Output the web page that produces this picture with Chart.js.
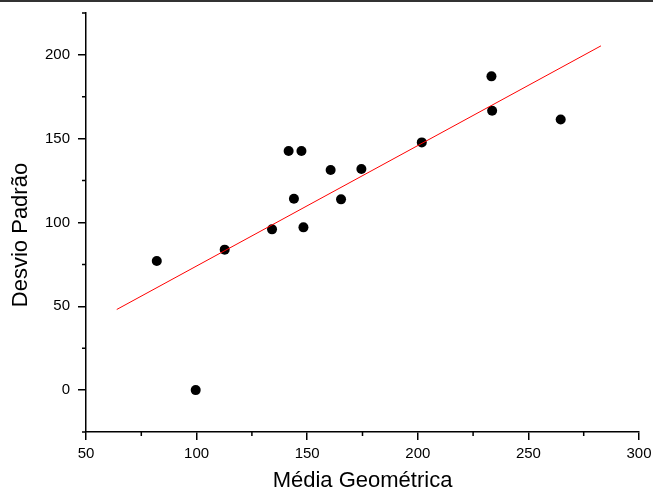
<!DOCTYPE html>
<html>
<head>
<meta charset="utf-8">
<script src="https://cdn.jsdelivr.net/npm/chart.js@4.4.1/dist/chart.umd.min.js"></script>
<style>
  html, body { margin: 0; padding: 0; background: #fff; }
  canvas { display: block; }
</style>
</head>
<body>
<canvas id="chart" width="653" height="494"></canvas>
<script>
// values
const mediaGeometrica = [82.0, 99.6, 112.7, 134.1, 141.6, 147.4, 144.0, 148.3, 160.6, 165.3, 174.5, 201.8, 233.3, 233.6, 264.6];
const desvioPadrao = [77.0, 0.0, 83.8, 95.9, 142.7, 142.7, 114.2, 97.1, 131.3, 113.8, 131.9, 147.8, 187.2, 166.7, 161.5];
// ends of the fitted line
const fitX = [63.9, 282.8];
const fitY = [48.1, 205.4];

const xTicks = [50, 100, 150, 200, 250, 300];
const yTicks = [0, 50, 100, 150, 200];
const xMinor = [75, 125, 175, 225, 275];
const yMinor = [-25, 25, 75, 125, 175, 225];

const points = mediaGeometrica.map((x, i) => ({ x: x, y: desvioPadrao[i] }));
const fitLine = fitX.map((x, i) => ({ x: x, y: fitY[i] }));

const font = "'Liberation Sans', Arial, sans-serif";

const extras = {
  id: "extras",
  afterDraw(chart) {
    const ctx = chart.ctx;
    const xs = chart.scales.x;
    const ys = chart.scales.y;
    const area = chart.chartArea;
    ctx.save();
    ctx.strokeStyle = "#000";
    ctx.lineWidth = 1.5;
    ctx.beginPath();
    xMinor.forEach((v) => {
      const px = xs.getPixelForValue(v);
      ctx.moveTo(px, area.bottom);
      ctx.lineTo(px, area.bottom + 4);
    });
    yMinor.forEach((v) => {
      const py = ys.getPixelForValue(v);
      ctx.moveTo(area.left, py);
      ctx.lineTo(area.left - 4, py);
    });
    ctx.stroke();
    // thin rule along the very top of the picture
    ctx.fillStyle = "#333";
    ctx.fillRect(0, 0, chart.width, 2);
    // y axis title, sits a little below the middle like the original
    ctx.translate(21, 235);
    ctx.rotate(-Math.PI / 2);
    ctx.fillStyle = "#000";
    ctx.font = "22px " + font;
    ctx.textAlign = "center";
    ctx.textBaseline = "middle";
    ctx.fillText("Desvio Padrão", 0, 0);
    ctx.restore();
  }
};

new Chart(document.getElementById("chart"), {
  type: "scatter",
  data: {
    datasets: [
      {
        data: fitLine,
        showLine: true,
        borderColor: "#ff0000",
        borderWidth: 1,
        pointRadius: 0,
        pointHoverRadius: 0
      },
      {
        data: points,
        backgroundColor: "#000",
        borderWidth: 0,
        pointRadius: 5,
        pointHoverRadius: 5
      }
    ]
  },
  options: {
    responsive: false,
    animation: false,
    layout: { padding: { top: 13, right: 14, left: 0, bottom: 0 } },
    plugins: {
      legend: { display: false },
      tooltip: { enabled: false }
    },
    scales: {
      x: {
        type: "linear",
        min: 50,
        max: 300,
        afterFit: (scale) => {
          scale.height = 62;
          scale.paddingLeft = 0;
          scale.paddingRight = 0;
        },
        afterBuildTicks: (scale) => { scale.ticks = xTicks.map((v) => ({ value: v })); },
        border: { color: "#000", width: 1.5 },
        grid: { drawOnChartArea: false, color: "#000", lineWidth: 1.5, tickLength: 8 },
        ticks: { color: "#000", font: { family: font, size: 15 }, padding: 5, maxRotation: 0 },
        title: {
          display: true,
          text: "Média Geométrica",
          color: "#000",
          font: { family: font, size: 22 },
          padding: { top: 0, bottom: 0 }
        }
      },
      y: {
        type: "linear",
        min: -25,
        max: 225,
        afterFit: (scale) => {
          scale.width = 86;
          scale.paddingTop = 0;
          scale.paddingBottom = 0;
        },
        afterBuildTicks: (scale) => { scale.ticks = yTicks.map((v) => ({ value: v })); },
        border: { color: "#000", width: 1.5 },
        grid: { drawOnChartArea: false, color: "#000", lineWidth: 1.5, tickLength: 8 },
        ticks: { color: "#000", font: { family: font, size: 15 }, padding: 8 }
      }
    }
  },
  plugins: [extras]
});
</script>
</body>
</html>
